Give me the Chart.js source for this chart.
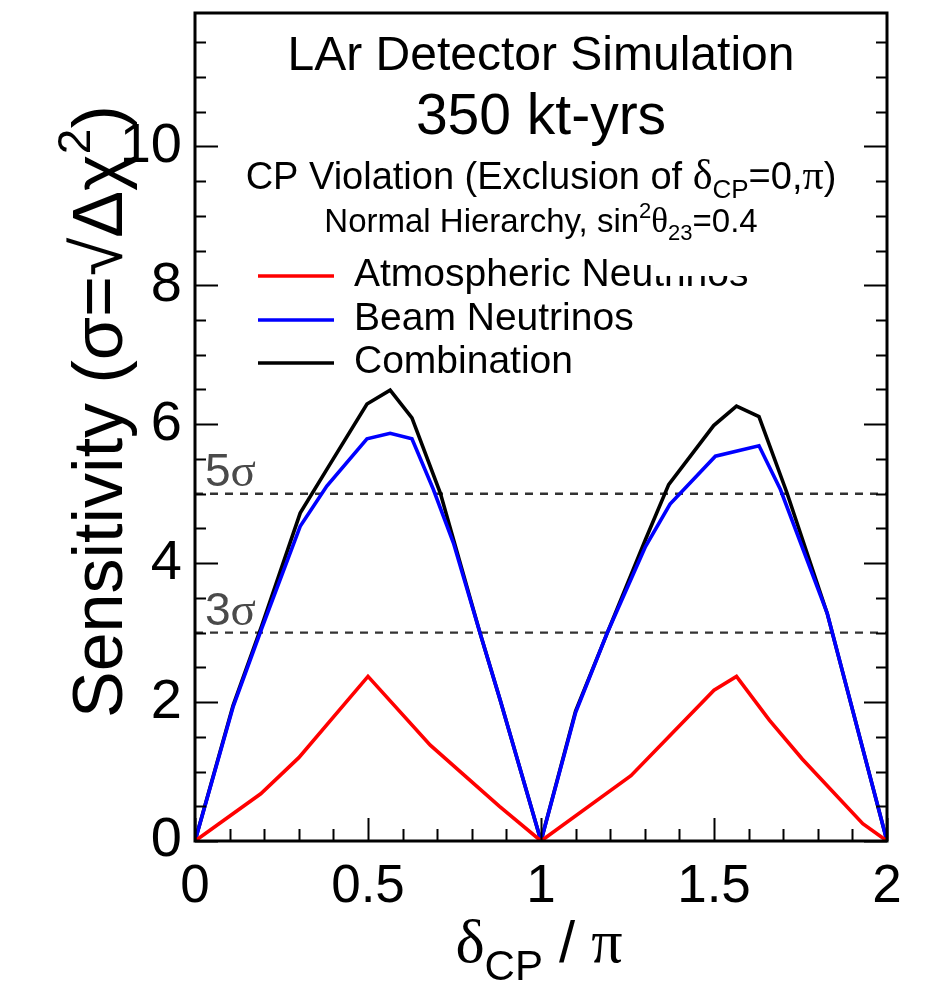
<!DOCTYPE html>
<html>
<head>
<meta charset="utf-8">
<script src="https://cdn.jsdelivr.net/npm/chart.js@4.4.0/dist/chart.umd.min.js"></script>
<style>
  html, body { margin: 0; padding: 0; background: #fff; }
  canvas { display: block; }
</style>
</head>
<body>
<canvas id="sens" width="927" height="982"></canvas>
<script>
// values, x = delta_CP / pi
const atmX  = [0, 0.19, 0.30, 0.50, 0.68, 0.88, 1.00, 1.26, 1.50, 1.565, 1.66, 1.755, 1.93, 2.00];
const atmY  = [0, 0.68, 1.20, 2.37, 1.38, 0.50, 0.00, 0.94, 2.17, 2.37, 1.74, 1.18, 0.25, 0.00];

const beamX = [0, 0.11, 0.193, 0.304, 0.381, 0.497, 0.564, 0.627, 0.689, 0.747, 0.824, 0.882, 1.00,
               1.10, 1.191, 1.302, 1.373, 1.504, 1.63, 1.692, 1.827, 2.00];
const beamY = [0, 1.93, 3.06, 4.53, 5.11, 5.79, 5.87, 5.79, 5.06, 4.29, 2.99, 2.03, 0.00,
               1.85, 2.99, 4.24, 4.85, 5.54, 5.69, 5.06, 3.28, 0.00];

const combX = [0, 0.11, 0.193, 0.304, 0.381, 0.497, 0.564, 0.627, 0.709, 0.824, 0.882, 1.00,
               1.10, 1.191, 1.302, 1.369, 1.499, 1.565, 1.63, 1.711, 1.827, 2.00];
const combY = [0, 1.95, 3.10, 4.72, 5.35, 6.29, 6.49, 6.09, 5.01, 2.99, 2.03, 0.00,
               1.87, 2.99, 4.34, 5.13, 5.98, 6.26, 6.11, 5.01, 3.28, 0.00];

const seriesNames  = ['Atmospheric Neutrinos', 'Beam Neutrinos', 'Combination'];
const seriesColors = ['#ff0000', '#0000ff', '#000000'];
const sigmaLevels  = [5, 3];
const xTicks = [0, 0.5, 1, 1.5, 2];
const yTicks = [0, 2, 4, 6, 8, 10];

const SANS  = '"Liberation Sans", Arial, sans-serif';
const SERIF = '"Liberation Serif", "Times New Roman", serif';

function pts(xs, ys) {
  return xs.map((x, i) => ({ x: x, y: ys[i] }));
}

/** draws a line of text made of pieces [text, size, family, dy] */
function drawRich(ctx, parts, x, y, align) {
  let w = 0;
  parts.forEach(p => {
    ctx.font = p[1] + 'px ' + (p[2] || SANS);
    p.w = ctx.measureText(p[0]).width;
    w += p.w;
  });
  let cx = align === 'center' ? x - w / 2 : x;
  ctx.textAlign = 'left';
  ctx.textBaseline = 'alphabetic';
  parts.forEach(p => {
    ctx.font = p[1] + 'px ' + (p[2] || SANS);
    ctx.fillText(p[0], cx, y + (p[3] || 0));
    cx += p.w;
  });
}

/** no extra room for tick labels sticking out of the plot */
function fixBox(s, size) {
  if (s.isHorizontal()) s.height = size; else s.width = size;
  s.paddingLeft = s.paddingRight = s.paddingTop = s.paddingBottom = 0;
}

// ROOT-like frame, inner ticks, texts and legend
const rootStyle = {
  id: 'rootStyle',
  beforeDatasetsDraw(chart) {
    const ctx = chart.ctx, a = chart.chartArea, ys = chart.scales.y;
    ctx.save();
    ctx.strokeStyle = '#333';
    ctx.lineWidth = 2.4;
    ctx.setLineDash([8, 7]);
    sigmaLevels.forEach(s => {
      const py = ys.getPixelForValue(s);
      ctx.beginPath();
      ctx.moveTo(a.left, py);
      ctx.lineTo(a.right, py);
      ctx.stroke();
    });
    ctx.setLineDash([]);
    ctx.fillStyle = '#4a4a4a';
    sigmaLevels.forEach(s => {
      const py = ys.getPixelForValue(s);
      drawRich(ctx, [[String(s), 46], ['σ', 47, SERIF]], a.left + 10, py - 8, 'left');
    });
    ctx.restore();
  },
  afterDraw(chart) {
    const ctx = chart.ctx, a = chart.chartArea;
    const xs = chart.scales.x, ys = chart.scales.y;
    ctx.save();
    ctx.strokeStyle = '#000';
    ctx.lineWidth = 2;
    // y ticks, left and right
    for (let v = 0; v <= ys.max + 1e-6; v += 0.5) {
      const py = Math.round(ys.getPixelForValue(v)) + 0.5;
      const len = (Math.abs(v % 2) < 1e-6) ? 23 : 11;
      ctx.beginPath();
      ctx.moveTo(a.left, py); ctx.lineTo(a.left + len, py);
      ctx.moveTo(a.right, py); ctx.lineTo(a.right - len, py);
      ctx.stroke();
    }
    // x ticks, bottom
    for (let i = 0; i <= 20; i++) {
      const v = i / 10;
      const px = Math.round(xs.getPixelForValue(v)) + 0.5;
      const len = (i % 5 === 0) ? 23 : 12;
      ctx.beginPath();
      ctx.moveTo(px, a.bottom); ctx.lineTo(px, a.bottom - len);
      ctx.stroke();
    }
    // frame
    ctx.lineWidth = 3;
    ctx.strokeRect(a.left, a.top, a.right - a.left, a.bottom - a.top);

    const cx = (a.left + a.right) / 2;
    ctx.fillStyle = '#000';
    drawRich(ctx, [['LAr Detector Simulation', 48]], cx, 70, 'center');
    drawRich(ctx, [['350 kt-yrs', 57]], cx, 134, 'center');
    drawRich(ctx, [['CP Violation (Exclusion of ', 38], ['δ', 42, SERIF], ['CP', 26, SANS, 9],
                   ['=0,', 38], ['π', 42, SERIF], [')', 38]], cx, 189, 'center');
    drawRich(ctx, [['Normal Hierarchy, sin', 33], ['2', 22, SANS, -14], ['θ', 35, SERIF],
                   ['23', 22, SANS, 8], ['=0.4', 33]], cx, 232, 'center');

    // legend
    const legX = 258, legY = [276, 320, 363];
    seriesNames.forEach((name, i) => {
      ctx.strokeStyle = seriesColors[i];
      ctx.lineWidth = 3.5;
      ctx.beginPath();
      ctx.moveTo(legX, legY[i]); ctx.lineTo(legX + 76, legY[i]);
      ctx.stroke();
      ctx.fillStyle = '#000';
      drawRich(ctx, [[name, 39]], legX + 96, legY[i] + 9.5, 'left');
    });
    // the original has the top of "trinos" clipped by a white box
    ctx.font = '39px ' + SANS;
    const cutX = legX + 96 + ctx.measureText('Atmospheric Neu').width;
    ctx.fillStyle = '#fff';
    ctx.fillRect(cutX, 240, 140, legY[0] - 240);

    // axis titles
    ctx.fillStyle = '#000';
    drawRich(ctx, [['δ', 62, SERIF], ['CP', 42, SANS, 18], [' / ', 58], ['π', 62, SERIF]], 539, 962, 'center');
    ctx.translate(122, 718);
    ctx.rotate(-Math.PI / 2);
    drawRich(ctx, [['Sensitivity (', 70], ['σ', 70], ['=', 70], ['√', 70], ['Δχ', 70],
                   ['2', 46, SANS, -32], [')', 70]], 0, 0, 'left');
    ctx.restore();
  }
};

new Chart(document.getElementById('sens'), {
  type: 'line',
  data: {
    datasets: [
      { label: seriesNames[0], data: pts(atmX, atmY),   borderColor: seriesColors[0] },
      { label: seriesNames[1], data: pts(beamX, beamY), borderColor: seriesColors[1] },
      { label: seriesNames[2], data: pts(combX, combY), borderColor: seriesColors[2] }
    ]
  },
  options: {
    responsive: false,
    animation: false,
    devicePixelRatio: 1,
    layout: { padding: { top: 13, right: 40, left: 0, bottom: 0 } },
    elements: {
      point: { radius: 0 },
      line: { borderWidth: 3.6, tension: 0, fill: false }
    },
    plugins: { legend: { display: false }, tooltip: { enabled: false } },
    scales: {
      x: {
        type: 'linear', min: 0, max: 2,
        grid: { display: false, drawTicks: false },
        border: { display: false },
        afterBuildTicks: s => { s.ticks = xTicks.map(v => ({ value: v })); },
        afterFit: s => fixBox(s, 141),
        ticks: { padding: 15, maxRotation: 0, minRotation: 0, color: '#000',
                 callback: v => String(v), font: { family: SANS, size: 53 } }
      },
      y: {
        type: 'linear', min: 0, max: 11.92,
        grid: { display: false, drawTicks: false },
        border: { display: false },
        afterBuildTicks: s => { s.ticks = yTicks.map(v => ({ value: v })); },
        afterFit: s => fixBox(s, 195),
        ticks: { padding: 13, color: '#000', callback: v => String(v),
                 font: { family: SANS, size: 56 } }
      }
    }
  },
  plugins: [rootStyle]
});
</script>
</body>
</html>
